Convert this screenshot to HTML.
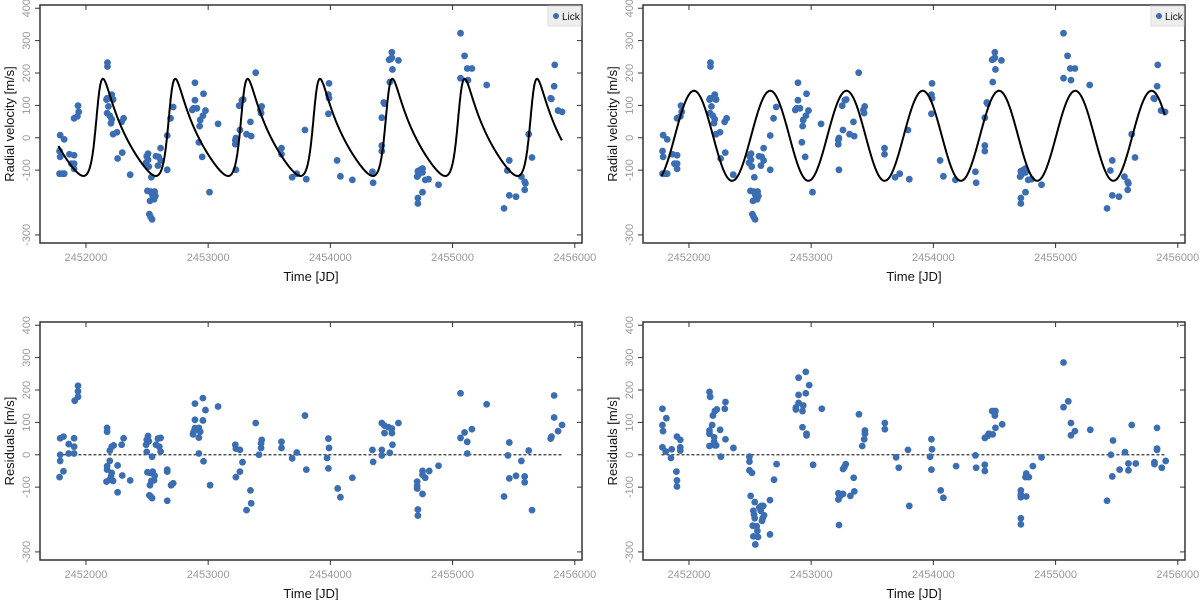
<!DOCTYPE html>
<html><head><meta charset="utf-8"><style>
html,body{margin:0;padding:0;background:#fff;}
svg{display:block;font-family:"Liberation Sans",sans-serif;}
</style></head><body>
<svg id="chart" width="1200" height="600" viewBox="0 0 1200 600"></svg>
<script>
const rvTime=[2451789,2451784,2451789,2451784,2451805,2451822,2451822,2451865,2451903,2451903,2451903,2451903,2451930,2451935,2451941,2451881,
2452176,2452176,2452173,2452168,2452184,2452195,2452211,2452222,2452173,2452195,2452211,2452205,2452222,2452259,2452254,2452292,2452308,2452297,2452362,
2452497,2452508,2452492,2452508,2452514,2452503,2452530,2452541,2452524,2452557,2452546,2452562,2452568,2452519,2452541,2452530,2452535,2452573,2452595,2452611,2452611,2452589,2452665,2452665,2452692,2452714,
2452892,2452892,2452881,2452870,2452908,2452935,2452930,2452924,2452957,2452951,2452962,2452978,2453011,2453081,
2453227,2453222,2453222,2453227,2453260,2453254,2453276,2453287,2453314,2453346,2453352,2453389,2453438,2453433,2453427,2453600,2453600,2453687,2453725,
2453803,2453792,2454055,2454082,2454180,2453989,2453989,2453984,2453984,2454344,2454350,2454421,2454421,2454421,2454437,2454443,2454486,2454508,2454481,2454503,2454503,2454492,2454557,
2454716,2454721,2454710,2454738,2454754,2454754,2454776,2454803,2454754,2454716,2454716,2454885,2455065,2455098,2455120,2455158,2455065,2455126,2455279,
2455421,2455464,2455519,2455464,2455448,2455563,2455590,2455596,2455590,2455623,2455650,2455803,2455809,2455831,2455836,2455863,2455896];
const rvValue=[8,-41,-59,-111,-111,-5,-111,-51,-54,-80,-96,60,66,99,80,-80,
232,220,122,118,97,122,133,118,76,68,57,45,11,-64,17,49,60,-46,-114,
-57,-49,-77,-68,-89,-164,-166,-174,-195,-190,-178,-166,-180,-236,-252,-245,-122,-57,-59,-32,-70,-86,-99,7,60,95,
170,116,91,86,91,55,36,-14,68,-59,136,84,-168,43,
-99,-20,-7,-1,24,99,116,118,11,49,5,201,97,76,86,-32,-51,-122,-111,
-128,24,-70,-119,-130,168,122,133,74,-105,-139,-24,-41,62,109,105,172,211,241,264,247,243,239,
-103,-114,-120,-99,-95,-107,-130,-128,-168,-186,-203,-145,323,253,214,214,184,178,163,
-218,-178,-182,-70,-101,-120,-136,-141,-161,11,-61,122,120,159,225,84,80];

const res1Time=[2451789,2451816,2451789,2451789,2451784,2451816,2451859,2451859,2451903,2451903,2451903,2451908,2451935,2451935,2451935,
2452173,2452173,2452195,2452195,2452173,2452173,2452211,2452205,2452168,2452195,2452222,2452211,2452227,2452259,2452259,2452292,2452308,2452297,2452362,
2452508,2452497,2452514,2452492,2452497,2452541,2452503,2452524,2452546,2452562,2452535,2452557,2452524,2452519,2452530,2452541,2452573,2452589,2452611,2452600,2452611,2452665,2452665,2452665,2452697,2452714,
2452876,2452881,2452892,2452892,2452892,2452924,2452935,2452924,2452957,2452957,2452978,2452924,2452962,2453016,2453081,
2453222,2453227,2453260,2453281,2453260,2453227,2453346,2453352,2453314,2453389,2453438,2453433,2453433,2453416,2453600,2453600,2453687,2453725,
2453792,2453803,2453984,2453989,2453973,2453984,2454060,2454082,2454180,2454344,2454350,2454421,2454421,2454486,2454508,2454421,2454443,2454476,2454503,2454503,2454443,2454557,
2454710,2454710,2454710,2454716,2454716,2454754,2454754,2454776,2454809,2454754,2454885,2455065,2455065,2455098,2455120,2455120,2455158,2455279,
2455421,2455464,2455453,2455464,2455519,2455563,2455590,2455590,2455623,2455650,2455803,2455809,2455831,2455831,2455863,2455896];
const res1Value=[51,56,0,-19,-69,-51,33,4,51,25,4,167,179,196,213,
83,71,13,-19,-35,-46,-56,-67,-83,-77,-81,25,29,-33,-116,31,51,-64,-79,
58,46,42,31,9,-6,-54,-56,-52,-65,-81,-79,-94,-125,-129,-134,31,50,52,25,10,-46,-52,-142,-94,-88,
63,71,82,108,158,83,71,53,106,175,138,4,-20,-94,149,
31,19,15,-23,-52,-69,-110,-150,-171,98,46,35,21,0,40,21,-11,7,
121,-46,50,21,-10,-42,-104,-131,-71,15,-22,15,-2,6,31,98,90,85,81,67,67,98,
-83,-96,-104,-169,-188,-50,-62,-71,-50,-121,-34,190,52,69,40,4,79,156,
-129,38,-2,-73,-65,-19,-67,-85,13,-171,50,56,183,115,73,92];

const res2Time=[2451783,2451783,2451788,2451783,2451810,2451815,2451859,2451853,2451902,2451929,2451929,2451929,2451897,2451902,2451902,
2452168,2452174,2452168,2452168,2452168,2452196,2452190,2452212,2452228,2452206,2452206,2452212,2452223,2452255,2452261,2452299,2452293,2452299,2452364,
2452495,2452495,2452495,2452516,2452505,2452538,2452527,2452533,2452538,2452522,2452554,2452560,2452527,2452565,2452543,2452576,2452592,2452608,2452587,2452603,2452614,2452598,2452663,2452663,2452696,2452717,
2452897,2452897,2452897,2452875,2452875,2452935,2452929,2452956,2452956,2452984,2452929,2452962,2452962,2453016,2453087,
2453223,2453223,2453234,2453228,2453261,2453261,2453272,2453283,2453321,2453348,2453353,2453391,2453418,2453434,2453440,2453440,2453603,2453603,2453695,2453717,
2453792,2453803,2453984,2453989,2453973,2453984,2454060,2454082,2454186,2454344,2454350,2454421,2454421,2454421,2454443,2454454,2454486,2454481,2454508,2454503,2454508,2454563,
2454716,2454716,2454716,2454716,2454716,2454760,2454760,2454754,2454781,2454814,2454885,2455065,2455104,2455065,2455126,2455126,2455158,2455284,
2455421,2455470,2455453,2455464,2455524,2455568,2455596,2455596,2455623,2455656,2455809,2455809,2455830,2455830,2455830,2455869,2455901];
const res2Value=[142,92,73,23,10,113,17,-10,56,46,23,13,-52,-79,-98,
194,179,75,65,27,121,92,135,140,54,40,29,29,77,-6,163,142,48,21,
-6,-21,-48,-56,-127,-146,-173,-185,-196,-219,-221,-235,-252,-254,-277,-162,-158,-158,-173,-196,-187,-204,-140,-246,-77,-29,
238,185,160,140,146,152,135,256,190,215,85,65,60,-31,142,
-119,-138,-129,-217,-121,-44,-38,-29,-127,-71,-113,125,27,48,75,65,98,79,-8,-40,
15,-158,48,17,-6,-46,-110,-133,-35,-2,-40,-31,-50,52,58,65,63,135,135,121,83,94,
-110,-123,-131,-196,-215,-129,-58,-69,-69,-35,-8,285,165,147,98,60,73,77,
-142,44,0,-67,-46,8,-27,-48,92,-27,-23,-29,83,19,15,-40,-19];

// Keplerian model parameters: [period, tPeri, e, omegaDeg, K, gamma]
const model1Params=[592,2452098,0.42,300,150,0.5];
// Circular model: [period, tPeak, K, gamma]
const model2Params=[624,2452041,139,6];
const modelRange=[2451775,2455895];
const yTicks=[400,300,200,100,0,-100,-300];
const xTicks=[2452000,2453000,2454000,2455000,2456000];

const NS="http://www.w3.org/2000/svg";
const svg=document.getElementById('chart');
const T0=2451624,T1=2456059,V0=-325,V1=410;
function mk(tag,attrs,parent){const e=document.createElementNS(NS,tag);for(const k in attrs)e.setAttribute(k,attrs[k]);(parent||svg).appendChild(e);return e;}

function kep(t,p){const [P,Tp,e,w,K,g]=p;let M=2*Math.PI*(t-Tp)/P;M=((M%(2*Math.PI))+2*Math.PI)%(2*Math.PI);let E=M;for(let i=0;i<30;i++)E=E-(E-e*Math.sin(E)-M)/(1-e*Math.cos(E));const nu=2*Math.atan2(Math.sqrt(1+e)*Math.sin(E/2),Math.sqrt(1-e)*Math.cos(E/2));const wr=w*Math.PI/180;return g+K*(Math.cos(nu+wr)+e*Math.cos(wr));}
function circ(t,p){const [P,tp,K,g]=p;return g+K*Math.cos(2*Math.PI*(t-tp)/P);}

function panel(name,L,Tp,ylabel,times,vals,modelFn,params,isResid,legend){
  const R=L+542,B=Tp+238;
  const g=mk('g',{});
  
  
  const sx=t=>L+(t-T0)/(T1-T0)*(R-L);
  const sy=v=>B-(v-V0)/(V1-V0)*(B-Tp);
  yTicks.forEach(v=>{const y=sy(v);
    const tk=mk('line',{x1:L-5,x2:L,y1:y,y2:y,stroke:'#333','stroke-width':1},g);
    
    
    mk('line',{x1:R-5,x2:R,y1:y,y2:y,stroke:'#333','stroke-width':1},g);
    const tx=mk('text',{x:L-10,y:y,fill:'#999','font-size':11,'text-anchor':'middle',transform:`rotate(-90 ${L-10} ${y})`},g);
    tx.textContent=v;
    
    
  });
  xTicks.forEach(t=>{const x=sx(t);
    mk('line',{x1:x,x2:x,y1:B,y2:B+5,stroke:'#333','stroke-width':1},g);
    mk('line',{x1:x,x2:x,y1:Tp,y2:Tp+5,stroke:'#333','stroke-width':1},g);
    const tx=mk('text',{x:x,y:B+18,fill:'#999','font-size':11,'text-anchor':'middle'},g);
    tx.textContent=t;
    
    
  });
  const xl=mk('text',{x:(L+R)/2,y:B+38,fill:'#111','font-size':13,'text-anchor':'middle'},g);
  xl.textContent='Time [JD]';
  
  
  const yc=(Tp+B)/2;
  const yl=mk('text',{x:L-26,y:yc,fill:'#111','font-size':13,'text-anchor':'middle',transform:`rotate(-90 ${L-26} ${yc})`},g);
  yl.textContent=ylabel;
  
  
  if(isResid){
    const zl=mk('line',{x1:sx(modelRange[0]),x2:sx(modelRange[1]),y1:sy(0),y2:sy(0),stroke:'#333','stroke-width':1.3,'stroke-dasharray':'3,2'},g);
    
    
  }
  times.forEach((t,i)=>{
    const c=mk('circle',{cx:sx(t),cy:sy(vals[i]),r:3.4,fill:'#3b6db2'},g);
    
    
  });
  if(modelFn){
    let d='';for(let t=modelRange[0];t<=modelRange[1];t+=3){d+=(d?'L':'M')+sx(t).toFixed(1)+','+sy(modelFn(t,params)).toFixed(1);}
    const p=mk('path',{d:d,fill:'none',stroke:'#000','stroke-width':2},g);
    
    
  }
  const fr=mk('rect',{x:L,y:Tp,width:R-L,height:B-Tp,fill:'none',stroke:'#333','stroke-width':1.5},g);
  
  
  if(legend){
    const lg=mk('g',{},g);
    
    
    mk('rect',{x:R-34,y:Tp+1,width:33,height:20,fill:'#eee',stroke:'#ddd'},lg);
    mk('circle',{cx:R-26,cy:Tp+11,r:3,fill:'#3b6db2'},lg);
    const lt=mk('text',{x:R-20,y:Tp+15,'font-size':10,fill:'#111'},lg);
    lt.textContent='Lick';
    
    
  }
}
panel('rv-panel-left',40,5,'Radial velocity [m/s]',rvTime,rvValue,kep,model1Params,false,true);
panel('rv-panel-right',643,5,'Radial velocity [m/s]',rvTime,rvValue,circ,model2Params,false,true);
panel('residual-panel-left',40,322,'Residuals [m/s]',res1Time,res1Value,null,null,true,false);
panel('residual-panel-right',643,322,'Residuals [m/s]',res2Time,res2Value,null,null,true,false);
</script>
</body></html>
